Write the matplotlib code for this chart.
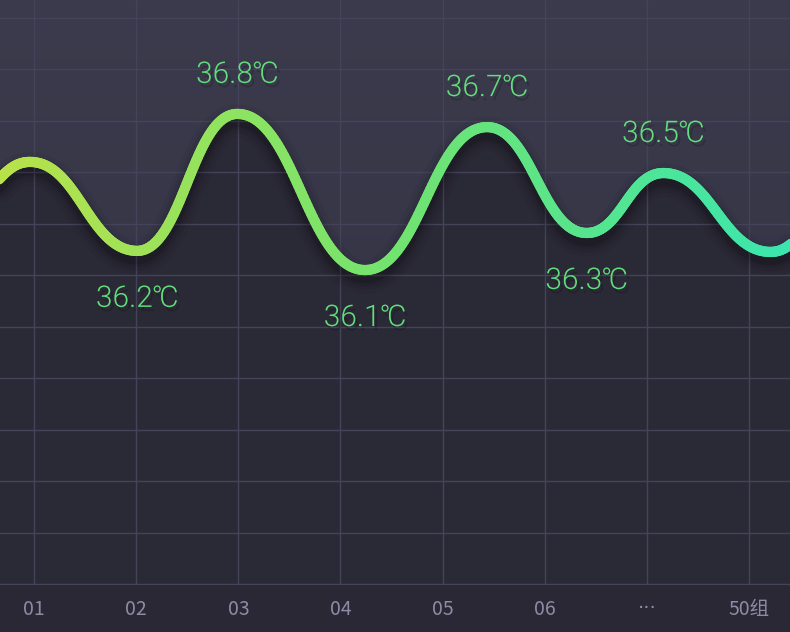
import numpy as np
import matplotlib

matplotlib.use("Agg")
import matplotlib.pyplot as plt  # noqa: E402
import matplotlib.patheffects as pe  # noqa: E402
from matplotlib.bezier import BezierSegment  # noqa: E402
from matplotlib.collections import LineCollection  # noqa: E402
from matplotlib.colors import LinearSegmentedColormap  # noqa: E402
from matplotlib.transforms import offset_copy  # noqa: E402

# categories on the x axis
categories = ["01", "02", "03", "04", "05", "06", "···", "50组"]

# turning points of the temperature wave (x in category units, y in °C scale)
wave_x = [-0.70, -0.04, 1.01, 1.99, 3.24, 4.435, 5.41, 6.16, 7.21, 7.90]
wave_t = [36.35, 36.549, 36.117, 36.782, 36.024, 36.718, 36.204, 36.495, 36.112, 36.35]

# annotated turning points and their readings
label_idx = [2, 3, 4, 5, 6, 7]
label_vals = [36.2, 36.8, 36.1, 36.7, 36.3, 36.5]

Y_MIN, Y_STEP = 34.5, 0.25
Y_MAX = Y_MIN + 584 / 206
X_MIN, X_MAX = -0.333, 7.40

BG_TOP, BG_BOT = "#3b3b4d", "#323141"
UNDER = "#2a2936"
GRID = "#44435a"
LABEL_GREEN = "#62de7c"
TICK_GREY = "#8e8ba5"
curve_cmap = LinearSegmentedColormap.from_list(
    "temp", ["#b9e24a", "#72e36f", "#3be6ad"]
)


def smooth_wave(xs, ys, k=0.45, n=60):
    """Cubic bezier through the turning points with flat tangents."""
    pts = []
    for x0, y0, x1, y1 in zip(xs[:-1], ys[:-1], xs[1:], ys[1:]):
        dx = x1 - x0
        seg = BezierSegment(np.array([[x0, y0], [x0 + k * dx, y0],
                                      [x1 - k * dx, y1], [x1, y1]]))
        p = seg(np.linspace(0, 1, n))
        pts.append(p if not pts else p[1:])
    p = np.vstack(pts)
    return p[:, 0], p[:, 1]


fig = plt.figure(figsize=(7.9, 6.32), dpi=100, facecolor="#292834")
ax = fig.add_axes([0, 48 / 632, 1, 584 / 632])
ax.set_xlim(X_MIN, X_MAX)
ax.set_ylim(Y_MIN, Y_MAX)

# background gradient
grad = np.linspace(0, 1, 256).reshape(-1, 1)
bg_cmap = LinearSegmentedColormap.from_list("bg", [BG_BOT, BG_TOP])
ax.imshow(grad, extent=[X_MIN, X_MAX, Y_MIN, Y_MAX], origin="lower",
          aspect="auto", cmap=bg_cmap, zorder=0)

sx, sy = smooth_wave(wave_x, wave_t)

# darker area under the curve
ax.fill_between(sx, sy, Y_MIN, color=UNDER, lw=0, zorder=0.2)

# soft drop shadow
for lw, a in [(24, 0.04), (18, 0.06), (13, 0.08), (9, 0.10)]:
    ax.plot(sx, sy, color="black", lw=lw, alpha=a, solid_capstyle="round",
            transform=offset_copy(ax.transData, fig=fig, x=0, y=-7, units="dots"),
            zorder=1)

# gradient line
pts = np.column_stack([sx, sy]).reshape(-1, 1, 2)
segs = np.concatenate([pts[:-1], pts[1:]], axis=1)
lc = LineCollection(segs, cmap=curve_cmap, norm=plt.Normalize(X_MIN, X_MAX),
                    lw=7.4, capstyle="round", joinstyle="round", zorder=3)
lc.set_array((sx[:-1] + sx[1:]) / 2)
ax.add_collection(lc)

# value labels
for i, v in zip(label_idx, label_vals):
    is_peak = wave_t[i] > max(wave_t[i - 1], wave_t[i + 1])
    ax.annotate(f"{v}℃", xy=(wave_x[i], wave_t[i]),
                xytext=(0, 39 if is_peak else -48), textcoords="offset pixels",
                ha="center", va="center", fontsize=21.5, fontweight=300,
                color=LABEL_GREEN, family=["Roboto", "DejaVu Sans"], zorder=4,
                path_effects=[pe.SimplePatchShadow(offset=(2, -3), shadow_rgbFace="black",
                                                   alpha=0.18),
                              pe.Normal()])

# grid and axis
ax.set_xticks(range(len(categories)), categories)
ax.set_yticks(np.arange(Y_MIN, Y_MAX, Y_STEP))
ax.grid(True, color=GRID, lw=1)
ax.set_axisbelow(True)
ax.tick_params(length=0, labelleft=False, pad=11, colors=TICK_GREY, labelsize=14)
for lab in ax.get_xticklabels():
    if lab.get_text() == "···":
        lab.set_family("DejaVu Sans")
    else:
        lab.set_family(["Noto Sans CJK SC", "DejaVu Sans"])
for side in ["top", "left", "right"]:
    ax.spines[side].set_visible(False)
ax.spines["bottom"].set_color(GRID)

fig.savefig("out.png", dpi=100, facecolor=fig.get_facecolor())
